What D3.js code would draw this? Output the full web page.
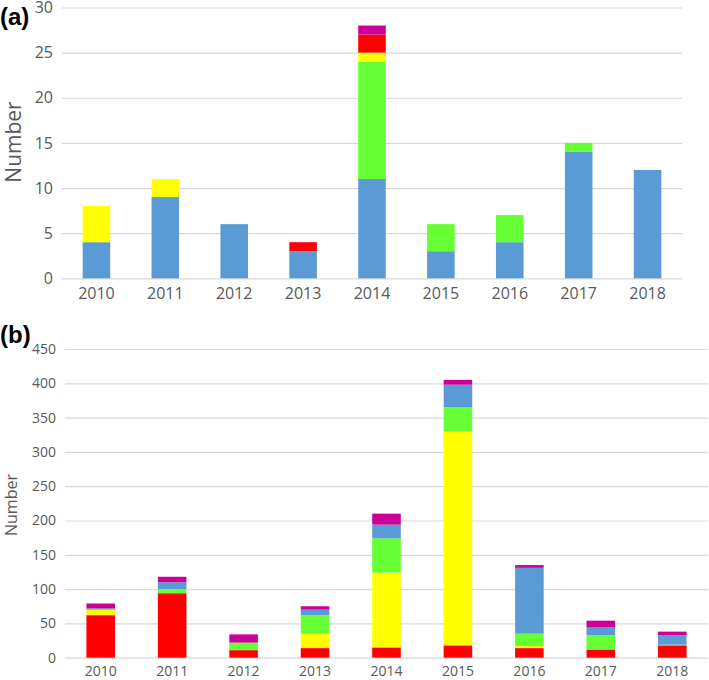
<!DOCTYPE html>
<html>
<head>
<meta charset="utf-8">
<script src="https://cdn.jsdelivr.net/npm/d3@7/dist/d3.min.js"></script>
<style>
  body { margin: 0; background: #fff; }
  svg { display: block; }
  text { font-family: "Open Sans", "Noto Sans", sans-serif; }
</style>
</head>
<body>
<svg id="chart" width="709" height="680"></svg>
<script>
// ---- Data ----
const years = ["2010", "2011", "2012", "2013", "2014", "2015", "2016", "2017", "2018"];

// Panel (a)
const aBlue    = [4, 9, 6, 3, 11, 3, 4, 14, 12];
const aGreen   = [0, 0, 0, 0, 13, 3, 3, 1, 0];
const aYellow  = [4, 2, 0, 0, 1, 0, 0, 0, 0];
const aRed     = [0, 0, 0, 1, 2, 0, 0, 0, 0];
const aMagenta = [0, 0, 0, 0, 1, 0, 0, 0, 0];
const aTicks   = [0, 5, 10, 15, 20, 25, 30];

// Panel (b)
const bRed     = [62, 94, 11, 14, 15, 18, 14, 12, 18];
const bYellow  = [8, 0, 0, 21, 109, 312, 3, 0, 0];
const bGreen   = [0, 6, 11, 27, 50, 35, 18, 21, 1];
const bBlue    = [2, 10, 0, 8, 20, 33, 96, 11, 14];
const bMagenta = [7, 8, 12, 5, 16, 7, 4, 10, 5];
const bTicks   = [0, 50, 100, 150, 200, 250, 300, 350, 400, 450];

const COLORS = { blue: "#5B9BD5", green: "#66FF33", yellow: "#FFFF00", red: "#FF0000", magenta: "#CC0099" };

const svg = d3.select("#chart");

function drawPanel(opt) {
  const { series, ticks, left, right, y0, yTop, tickFont, xFont, titleFont, titleX, titleY, labelX, labelY, labelFont, xLabelY, tickX } = opt;
  const g = svg.append("g");
  const x = d3.scaleBand().domain(years).range([left, right]).paddingInner(0.6).paddingOuter(0.3);
  const y = d3.scaleLinear().domain([0, d3.max(ticks)]).range([y0, yTop]);

  // gridlines
  g.append("g")
    .attr("transform", `translate(${left},0)`)
    .call(d3.axisLeft(y).tickValues(ticks).tickSize(-(right - left)).tickFormat(""))
    .call(s => s.select(".domain").remove())
    .call(s => s.selectAll("line").attr("stroke", "#D9D9D9").attr("stroke-width", 1.2));

  // stacked data
  const rows = years.map((yr, i) => {
    const r = { year: yr };
    series.forEach(s => r[s.key] = s.values[i]);
    return r;
  });
  const stack = d3.stack().keys(series.map(s => s.key))(rows);
  stack.forEach((layer, li) => {
    g.append("g").attr("fill", series[li].color)
      .selectAll("rect").data(layer.filter(d => d[1] - d[0] > 0)).join("rect")
      .attr("x", d => x(d.data.year))
      .attr("width", x.bandwidth())
      .attr("y", d => y(d[1]))
      .attr("height", d => y(d[0]) - y(d[1]));
  });

  // y tick labels
  g.append("g")
    .attr("transform", `translate(${tickX},0)`)
    .call(d3.axisLeft(y).tickValues(ticks).tickSize(0).tickPadding(0))
    .call(s => s.select(".domain").remove())
    .call(s => s.selectAll("text").attr("fill", "#595959").style("font-size", tickFont + "px").style("font-family", '"Open Sans", sans-serif'));

  // x tick labels
  g.append("g")
    .attr("transform", `translate(0,${xLabelY})`)
    .call(d3.axisBottom(x).tickSize(0).tickPadding(0))
    .call(s => s.select(".domain").remove())
    .call(s => s.selectAll("text").attr("fill", "#595959").style("font-size", xFont + "px").style("font-family", '"Open Sans", sans-serif'));

  // axis title
  g.append("text")
    .attr("transform", `translate(${labelX},${labelY}) rotate(-90)`)
    .attr("text-anchor", "middle")
    .attr("dominant-baseline", "central")
    .attr("fill", "#595959")
    .style("font-size", labelFont + "px")
    .text("Number");

  // panel letter
  g.append("text")
    .attr("x", titleX).attr("y", titleY)
    .attr("fill", "#000")
    .style("font-size", titleFont + "px")
    .style("font-weight", "bold")
    .style("font-family", '"Liberation Sans", Arial, sans-serif')
    .text(opt.title);
}

drawPanel({
  title: "(a)",
  series: [
    { key: "blue", values: aBlue, color: COLORS.blue },
    { key: "green", values: aGreen, color: COLORS.green },
    { key: "yellow", values: aYellow, color: COLORS.yellow },
    { key: "red", values: aRed, color: COLORS.red },
    { key: "magenta", values: aMagenta, color: COLORS.magenta }
  ],
  ticks: aTicks,
  left: 62, right: 682, y0: 278.3, yTop: 7.5,
  tickX: 53, tickFont: 16, xFont: 16, xLabelY: 288,
  titleFont: 24, titleX: 0, titleY: 25,
  labelX: 13, labelY: 142, labelFont: 21
});

drawPanel({
  title: "(b)",
  series: [
    { key: "red", values: bRed, color: COLORS.red },
    { key: "yellow", values: bYellow, color: COLORS.yellow },
    { key: "green", values: bGreen, color: COLORS.green },
    { key: "blue", values: bBlue, color: COLORS.blue },
    { key: "magenta", values: bMagenta, color: COLORS.magenta }
  ],
  ticks: bTicks,
  left: 65, right: 708, y0: 657.7, yTop: 349,
  tickX: 56, tickFont: 14, xFont: 14, xLabelY: 666,
  titleFont: 24, titleX: 0, titleY: 343,
  labelX: 11, labelY: 505, labelFont: 16
});
</script>
</body>
</html>
